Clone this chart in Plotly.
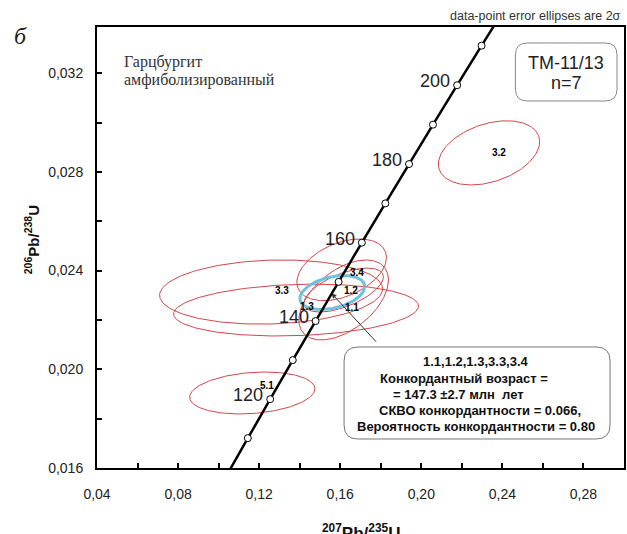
import numpy as np
import plotly.graph_objects as go

# ---------------- data ----------------
# concordia age marks (Ma) and their ratios
conc_age = [100, 110, 120, 130, 140, 150, 160, 170, 180, 190, 200, 210, 220]
conc_x = [0.10350, 0.11442, 0.12545, 0.13659, 0.14784, 0.15920, 0.17067, 0.18225,
          0.19395, 0.20576, 0.21769, 0.22973, 0.24193]
conc_y = [0.015633, 0.017210, 0.018789, 0.020371, 0.021955, 0.023542, 0.025131,
          0.026722, 0.028316, 0.029912, 0.031511, 0.033113, 0.034717]
conc_labels = [120, 140, 160, 180, 200]

# spot analyses: 207Pb/235U, 206Pb/238U, 2-sigma errors, error correlation
spot_names = ["1.1", "1.2", "1.3", "3.3", "3.4", "3.2", "5.1"]
spot_x = [0.1617, 0.1617, 0.1382, 0.1259, 0.1607, 0.2334, 0.1166]
spot_y = [0.02281, 0.02321, 0.02240, 0.02313, 0.02403, 0.02877, 0.01904]
spot_sx = [0.0221, 0.0196, 0.0604, 0.0550, 0.0221, 0.0250, 0.0309]
spot_sy = [0.00162, 0.00089, 0.00105, 0.00130, 0.00125, 0.00130, 0.00085]
spot_rho = [0.50, 0.60, 0.15, 0.10, 0.40, 0.35, 0.20]
# label anchor positions for spot names
lab_x = [0.1657, 0.1652, 0.1436, 0.1313, 0.1681, 0.2383, 0.1239]
lab_y = [0.022485, 0.023174, 0.022525, 0.023174, 0.023903, 0.028767, 0.019323]

# concordia age ellipse
cage_x, cage_y, cage_sx, cage_sy, cage_rho = 0.1561, 0.02311, 0.0160, 0.00069, 0.35

# ---------------- layout constants ----------------
W, H = 627, 534
L, R, T, B = 97, 1, 27, 66
XR = [0.04, 0.30]
YR = [0.016, 0.03387]


def pp(x, y):
    return (x - L) / (W - L - R), (H - B - y) / (H - T - B)


def ellipse(cx, cy, sx, sy, rho, n=181):
    th = np.linspace(0, 2 * np.pi, n)
    ex = cx + sx * np.cos(th)
    ey = cy + sy * (rho * np.cos(th) + np.sqrt(1 - rho ** 2) * np.sin(th))
    return ex, ey


fig = go.Figure()

RED = "#d2464a"
for i in range(len(spot_names)):
    ex, ey = ellipse(spot_x[i], spot_y[i], spot_sx[i], spot_sy[i], spot_rho[i])
    fig.add_trace(go.Scatter(x=ex, y=ey, mode="lines",
                             line=dict(color=RED, width=1), hoverinfo="skip"))

ex, ey = ellipse(cage_x, cage_y, cage_sx, cage_sy, cage_rho)
fig.add_trace(go.Scatter(x=ex, y=ey, mode="lines",
                         line=dict(color="#6cc3e0", width=3), hoverinfo="skip"))

fig.add_trace(go.Scatter(x=conc_x, y=conc_y, mode="lines+markers",
                         line=dict(color="black", width=2.5, shape="spline"),
                         marker=dict(size=7, color="white",
                                     line=dict(color="black", width=1)),
                         hoverinfo="skip"))

ann = []
for i, nm in enumerate(spot_names):
    ann.append(dict(x=lab_x[i], y=lab_y[i], text="<b>%s</b>" % nm, showarrow=False,
                    font=dict(family="Arial", size=10, color="black")))

for a in conc_labels:
    i = conc_age.index(a)
    ann.append(dict(x=conc_x[i], y=conc_y[i], text=str(a), showarrow=False,
                    xanchor="right", yanchor="middle", xshift=-5, yshift=4,
                    font=dict(family="Arial", size=18, color="#222")))

def ptext(px_, py_, text, size, xanchor="center", family="Arial", color="#222", **kw):
    x, y = pp(px_, py_)
    d = dict(x=x, y=y, xref="paper", yref="paper", text=text, showarrow=False,
             xanchor=xanchor, yanchor="middle",
             font=dict(family=family, size=size, color=color))
    d.update(kw)
    ann.append(d)

# header notes
ptext(625, 16, "data-point error ellipses are 2σ", 12.5, xanchor="right", color="#333")
ptext(20, 36, "<i>б</i>", 24, family="Liberation Serif", color="#222")
ptext(122, 62, "Гарцбургит", 16, xanchor="left", family="Liberation Serif", color="#333")
ptext(122, 80, "амфиболизированный", 16, xanchor="left", family="Liberation Serif", color="#333")
ptext(568, 63, "TM-11/13", 18)
ptext(568, 83, "n=7", 18)

# result box text
box_lines = [(477, 361, "1.1,1.2,1.3,3.3,3.4"),
             (465, 378, "Конкордантный возраст ="),
             (460, 394, "= 147.3 ±2.7 млн  лет"),
             (481, 410, "СКВО конкордантности = 0.066,"),
             (477, 426, "Вероятность конкордантности = 0.80")]
for bx, by, t in box_lines:
    ptext(bx, by, "<b>%s</b>" % t, 13, color="#111")

# axis titles
ptext(31, 240, "<b><sup>206</sup>Pb/<sup>238</sup>U</b>", 15, textangle=-90, color="#111")
ptext(362, 532, "<b><sup>207</sup>Pb/<sup>235</sup>U</b>", 17, color="#111")

# arrow to concordia ellipse
ann.append(dict(x=cage_x - 0.0004, y=cage_y - 0.00003, ax=46, ay=50, text="",
                showarrow=True, arrowhead=2, arrowsize=1, arrowwidth=1,
                arrowcolor="#333"))


def rrect(x0, y0, x1, y1, r):
    def P(x, y):
        u, v = pp(x, y)
        return "%.5f,%.5f" % (u, v)
    path = ("M " + P(x0 + r, y0) + " L " + P(x1 - r, y0) + " Q " + P(x1, y0) + " " + P(x1, y0 + r) +
            " L " + P(x1, y1 - r) + " Q " + P(x1, y1) + " " + P(x1 - r, y1) +
            " L " + P(x0 + r, y1) + " Q " + P(x0, y1) + " " + P(x0, y1 - r) +
            " L " + P(x0, y0 + r) + " Q " + P(x0, y0) + " " + P(x0 + r, y0) + " Z")
    return path

shapes = [
    dict(type="path", xref="paper", yref="paper", path=rrect(517, 43, 619, 101, 12),
         line=dict(color="#888", width=1), fillcolor="rgba(0,0,0,0)"),
    dict(type="path", xref="paper", yref="paper", path=rrect(345, 347, 612, 439, 14),
         line=dict(color="#777", width=1), fillcolor="white", layer="above"),
]

fig.update_layout(
    width=W, height=H,
    margin=dict(l=L, r=R, t=T, b=B),
    paper_bgcolor="white", plot_bgcolor="white",
    showlegend=False,
    separators=", ",
    annotations=ann,
    shapes=shapes,
    xaxis=dict(range=XR, tick0=0.04, dtick=0.04, tickformat=".2f",
               showgrid=False, zeroline=False, showline=True, linewidth=2,
               linecolor="black", mirror=True, ticks="inside", ticklen=5,
               tickwidth=1.5, tickcolor="black", ticklabelstandoff=12,
               tickfont=dict(family="Arial", size=14, color="#222"),
               minor=dict(dtick=0.02, ticks="inside", ticklen=5, tickwidth=1.5,
                          tickcolor="black", showgrid=False)),
    yaxis=dict(range=YR, tick0=0.016, dtick=0.004, tickformat=".3f",
               showgrid=False, zeroline=False, showline=True, linewidth=2,
               linecolor="black", mirror=True, ticks="inside", ticklen=5,
               tickwidth=1.5, tickcolor="black", ticklabelstandoff=9,
               tickfont=dict(family="Arial", size=14, color="#222"),
               minor=dict(dtick=0.002, ticks="inside", ticklen=5, tickwidth=1.5,
                          tickcolor="black", showgrid=False)),
)

fig.write_html("out.html", config={"displayModeBar": False},
               post_script="document.body.style.margin='0';document.body.style.overflow='hidden';")
